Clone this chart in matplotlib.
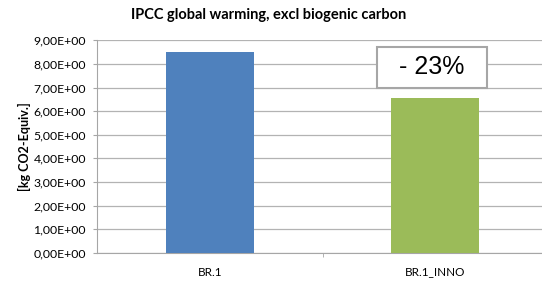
import matplotlib.pyplot as plt
from matplotlib.ticker import FuncFormatter

categories = ['BR.1', 'BR.1_INNO']
values = [8.52, 6.56]
bar_colors = ['#4f81bd', '#9bbb59']
yticks = [0, 1, 2, 3, 4, 5, 6, 7, 8, 9]

plt.rcParams['font.family'] = ['Lato', 'DejaVu Sans']

W, H = 542, 282
fig = plt.figure(figsize=(W / 100, H / 100), dpi=100)
# plot area runs slightly past the right edge, like the original export
ax = fig.add_axes([97 / W, 1 - 252.7 / H, 451 / W, (252.7 - 40.3) / H])

x = range(len(categories))
ax.bar(x, values, width=0.39, color=bar_colors, zorder=3)

ax.set_xlim(-0.5, 1.5)
ax.set_ylim(0, 9)
ax.set_yticks(yticks)
ax.yaxis.set_major_formatter(FuncFormatter(lambda v, p: f'{v:.2f}'.replace('.', ',') + 'E+00'))
ax.set_xticks(list(x))
ax.set_xticklabels(categories)
ax.set_xticks([0.5], minor=True)

ax.grid(axis='y', color='#b3b3b3', linewidth=0.9, zorder=0)
for s in ['top', 'right']:
    ax.spines[s].set_visible(False)
ax.spines['left'].set_color('#a6a6a6')
ax.spines['bottom'].set_color('#a6a6a6')
ax.tick_params(axis='y', length=3, color='#a6a6a6', labelsize=8.8, pad=5)
ax.tick_params(axis='x', which='major', length=0, labelsize=8.4, pad=10)
ax.tick_params(axis='x', which='minor', length=3, color='#a6a6a6')

ax.set_ylabel('[kg CO2-Equiv.]', fontsize=9, fontweight='bold', labelpad=2)
fig.text(269 / W, 1 - 15 / H, 'IPCC global warming, excl biogenic carbon',
         ha='center', va='center', fontsize=10.5, fontweight='bold')

change = (values[1] - values[0]) / values[0] * 100
ax.text(0.984, 7.85, f'  - {abs(change):.0f}%  ', ha='center', va='center', fontsize=18,
        family=['Liberation Sans', 'DejaVu Sans'], zorder=5,
        bbox=dict(boxstyle='square,pad=0.33', facecolor='white', edgecolor='#a6a6a6',
                  linewidth=1.5))

fig.savefig('out.png', dpi=100)
